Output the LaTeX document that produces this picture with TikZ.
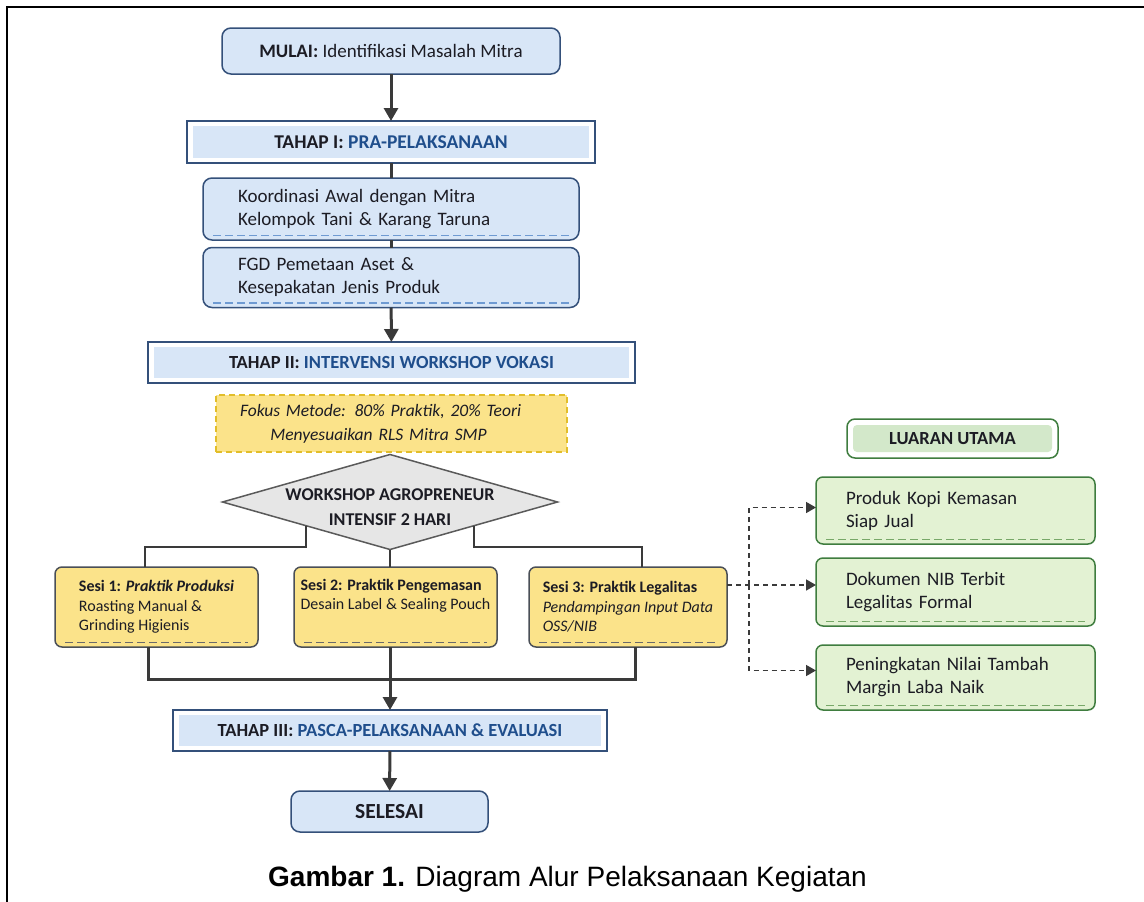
\documentclass[tikz,border=0pt]{standalone}
\usepackage{fontspec}
\setmainfont{Carlito}
\newfontfamily\capfont{Liberation Sans}
\usetikzlibrary{shapes.geometric,arrows.meta,calc}
\definecolor{bfill}{HTML}{D8E6F7}
\definecolor{bdraw}{HTML}{34507A}
\definecolor{bdash}{HTML}{6E9AD2}
\definecolor{tblue}{HTML}{1F4E8C}
\definecolor{tdark}{HTML}{1C1C24}
\definecolor{yfill}{HTML}{FBE38A}
\definecolor{ydash}{HTML}{E2BE2A}
\definecolor{sdraw}{HTML}{4A4F57}
\definecolor{sdash}{HTML}{6A6A6A}
\definecolor{dfill}{HTML}{E6E6E6}
\definecolor{ddraw}{HTML}{5A5A5A}
\definecolor{gfill}{HTML}{E3F2D3}
\definecolor{gdraw}{HTML}{3F7D3F}
\definecolor{gdash}{HTML}{78A868}
\definecolor{ginner}{HTML}{D3E8CA}
\definecolor{conncol}{HTML}{3A3A3A}
\tikzset{
  every node/.style={inner sep=0pt, outer sep=0pt, text=tdark},
  bottomdash/.style={path picture={\draw[#1, line width=1.3pt, dash pattern=on 8pt off 4pt]
     ([shift={(10pt,4.5pt)}]path picture bounding box.south west) --
     ([shift={(-10pt,4.5pt)}]path picture bounding box.south east);}},
  bluebox/.style={draw=bdraw, line width=1.5pt, fill=bfill, rounded corners=9pt},
  startbox/.style={bluebox, font=\fontsize{19}{23}\selectfont},
  tahapbox/.style={draw=bdraw, line width=1.5pt, fill=white,
     font=\bfseries\fontsize{18.5}{22}\selectfont,
     path picture={\fill[bfill] ([shift={(6pt,5pt)}]path picture bounding box.south west)
        rectangle ([shift={(-6pt,-5pt)}]path picture bounding box.north east);}},
  stepbox/.style={bluebox, bottomdash=bdash, inner xsep=35pt, text width=306pt,
     align=left, font=\fontsize{19}{23}\selectfont},
  notebox/.style={draw=ydash, fill=yfill, line width=1.5pt, dash pattern=on 6pt off 4pt,
     minimum width=351pt, minimum height=57pt, text width=351pt, align=center,
     font=\itshape\fontsize{17.5}{24}\selectfont},
  sesibox/.style={draw=sdraw, fill=yfill, line width=1.5pt, rounded corners=7pt,
     bottomdash=sdash, align=left, minimum height=80pt,
     font=\fontsize{16}{19.5}\selectfont},
  outbox/.style={draw=gdraw, fill=gfill, line width=1.5pt, rounded corners=7pt,
     bottomdash=gdash, inner xsep=30pt, text width=219pt, align=left,
     font=\fontsize{19}{23}\selectfont},
  luaranbox/.style={draw=gdraw, fill=white, line width=1.5pt, rounded corners=8pt,
     font=\bfseries\fontsize{18.5}{22}\selectfont,
     path picture={\fill[ginner, rounded corners=4pt] ([shift={(6pt,6pt)}]path picture bounding box.south west)
        rectangle ([shift={(-6pt,-6pt)}]path picture bounding box.north east);}},
  conn/.style={draw=conncol, line width=3pt},
  branch/.style={draw=conncol, line width=2pt},
  arr/.style={conn, -{Triangle[width=14pt,length=13pt]}},
  darr/.style={draw=conncol, line width=1.6pt, dash pattern=on 5pt off 4pt,
     -{Triangle[width=11pt,length=10pt]}}
}
\begin{document}
\begin{tikzpicture}[x=1pt,y=-1pt]
\useasboundingbox (0,0) rectangle (1144,902);
\draw[line width=2.5pt, line cap=rect] (7,902) -- (7,7) -- (1144,7);

% main column
\node[startbox, minimum width=338pt, minimum height=46pt] (start) at (391,51)
  {\textbf{MULAI:} Identifikasi Masalah Mitra};
\node[tahapbox, minimum width=408pt, minimum height=42pt, font=\bfseries\fontsize{19.5}{23}\selectfont] (t1) at (391,142)
  {TAHAP I: \textcolor{tblue}{PRA-PELAKSANAAN}};
\node[stepbox, minimum height=62pt] (k1) at (391,209)
  {Koordinasi Awal dengan Mitra\\Kelompok Tani \& Karang Taruna};
\node[stepbox, minimum height=60pt] (k2) at (391,277.5)
  {FGD Pemetaan Aset \&\\Kesepakatan Jenis Produk};
\node[tahapbox, minimum width=487pt, minimum height=41pt] (t2) at (391.5,362.5)
  {TAHAP II: \textcolor{tblue}{INTERVENSI WORKSHOP VOKASI}};
\node[notebox] (note) at (391.5,423.5)
  {\hspace*{-22pt}Fokus Metode: 80\% Praktik, 20\% Teori\\\hspace*{-26pt}Menyesuaikan RLS Mitra SMP};
\node[diamond, draw=ddraw, fill=dfill, line width=1.5pt, minimum width=335pt,
  minimum height=95pt,
  label={[font=\bfseries\fontsize{18}{25}\selectfont, align=center, yshift=-5pt]center:WORKSHOP AGROPRENEUR\\INTENSIF 2 HARI}]
  (d) at (390,502) {};

\node[sesibox, minimum width=203pt] (s1) at (156.5,607)
  {\textbf{Sesi 1: \textit{Praktik Produksi}}\\Roasting Manual \&\\Grinding Higienis};
\node[sesibox, minimum width=203pt] (s2) at (395.5,607)
  {\textbf{Sesi 2: Praktik Pengemasan}\\Desain Label \& Sealing Pouch\\\strut};
\node[sesibox, minimum width=198pt] (s3) at (628,607)
  {\textbf{Sesi 3: Praktik Legalitas}\\\textit{Pendampingan Input Data}\\\textit{OSS/NIB}};

\node[tahapbox, minimum width=434pt, minimum height=41pt] (t3) at (390,730.5)
  {TAHAP III: \textcolor{tblue}{PASCA-PELAKSANAAN \& EVALUASI}};
\node[startbox, minimum width=197pt, minimum height=41pt, font=\bfseries\fontsize{21.5}{25}\selectfont] (end) at (389.5,811.5)
  {SELESAI};

% outputs
\node[luaranbox, minimum width=211pt, minimum height=39pt] (lu) at (952.5,438.5) {LUARAN UTAMA};
\node[outbox, minimum height=67pt] (g1) at (955.5,510.5) {Produk Kopi Kemasan\\Siap Jual};
\node[outbox, minimum height=68pt] (g2) at (955.5,592) {Dokumen NIB Terbit\\Legalitas Formal};
\node[outbox, minimum height=65pt] (g3) at (955.5,677.5) {Peningkatan Nilai Tambah\\Margin Laba Naik};

% connectors
\draw[arr] (start) -- (t1);
\draw[conn] (t1) -- (k1);
\draw[conn] (k1) -- (k2);
\draw[arr] (k2) -- (t2);
\draw[branch] ($(d.south)!0.5!(d.west)$) -- ++(0,21) -| ([xshift=-12pt]s1.north);
\draw[branch] ($(d.south)!0.5!(d.east)$) -- ++(0,21) -| ([xshift=14pt]s3.north);
\draw[branch] (d.south) -- (d.south |- s2.north);
\coordinate (m) at (390,679);
\draw[conn] ([xshift=-8pt]s1.south) |- (m) -| ([xshift=7pt]s3.south);
\draw[arr] (t3.north |- s2.south) -- (t3.north);
\draw[arr] (t3) -- (end);

\coordinate (s3r) at ([yshift=22pt]s3.east);
\coordinate (g1in) at ([yshift=3pt]g1.west);
\coordinate (g2in) at ([yshift=7pt]g2.west);
\coordinate (g3in) at ([yshift=7pt]g3.west);
\coordinate (bj) at (749,585);
\draw[darr] (s3r) -- (g2in);
\draw[darr] (bj) |- (g1in);
\draw[darr] (bj) |- (g3in);

\node[font=\capfont\fontsize{28}{32}\selectfont, text=black] (cap) at (567.5,879)
  {\textbf{Gambar 1.} Diagram Alur Pelaksanaan Kegiatan};
\end{tikzpicture}
\end{document}
